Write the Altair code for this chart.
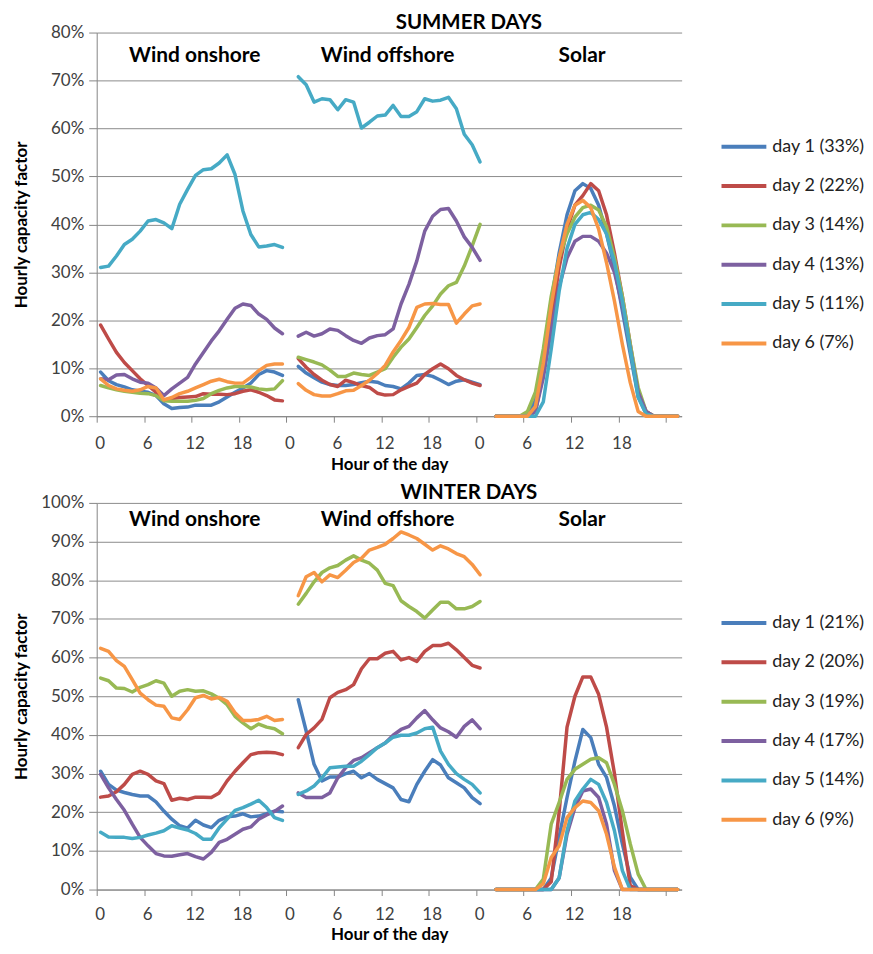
import altair as alt
import pandas as pd

# ---------------- data ----------------
groups = ["Wind onshore", "Wind offshore", "Solar"]
group_start = [0, 25, 50]          # category index where each block begins (one empty slot between blocks)
group_label_x = [12.4, 36.8, 61.4]  # centre of each block heading (category units)

colors = ["#4A7EBB", "#BE4B48", "#98B954", "#7D60A0", "#46AAC5", "#F79646"]

summer_days = ["day 1 (33%)", "day 2 (22%)", "day 3 (14%)", "day 4 (13%)", "day 5 (11%)", "day 6 (7%)"]
winter_days = ["day 1 (21%)", "day 2 (20%)", "day 3 (19%)", "day 4 (17%)", "day 5 (14%)", "day 6 (9%)"]

# hourly capacity factor in %, 24 values per day
summer_onshore = [
    [9.2, 7.4, 6.6, 6.1, 5.5, 5.2, 5.0, 4.3, 2.6, 1.6, 1.8, 1.9, 2.3, 2.3, 2.3, 3.0, 4.0, 5.0, 5.9, 6.9, 8.7, 9.5, 9.2, 8.5],
    [19.0, 16.1, 13.3, 11.2, 9.5, 7.8, 6.4, 5.0, 3.4, 3.7, 3.9, 4.0, 4.1, 4.7, 4.6, 4.6, 4.5, 4.7, 5.2, 5.5, 5.0, 4.3, 3.4, 3.2],
    [6.4, 5.9, 5.5, 5.2, 5.0, 4.8, 4.7, 4.3, 3.2, 3.1, 3.1, 3.1, 3.3, 3.7, 4.7, 5.4, 5.9, 6.2, 6.2, 6.1, 5.7, 5.5, 5.7, 7.4],
    [7.8, 7.6, 8.6, 8.7, 7.8, 7.1, 6.9, 5.9, 4.3, 5.7, 6.9, 8.1, 10.9, 13.3, 15.7, 17.8, 20.2, 22.5, 23.4, 23.1, 21.3, 20.2, 18.4, 17.2],
    [31.0, 31.3, 33.4, 35.8, 36.9, 38.6, 40.7, 41.0, 40.3, 39.1, 44.2, 47.3, 50.2, 51.4, 51.6, 52.8, 54.5, 50.4, 42.8, 37.9, 35.3, 35.5, 35.8, 35.2],
    [7.8, 6.4, 5.7, 5.4, 5.2, 5.5, 6.2, 5.9, 3.4, 3.9, 4.7, 5.2, 5.9, 6.6, 7.3, 7.7, 7.2, 6.9, 6.9, 8.1, 9.5, 10.6, 10.9, 10.9],
]
summer_offshore = [
    [10.4, 9.0, 8.0, 7.1, 6.6, 6.4, 6.4, 6.6, 7.0, 7.3, 7.1, 6.4, 6.2, 5.7, 6.9, 8.5, 8.7, 8.3, 7.5, 6.6, 7.3, 7.6, 7.1, 6.6],
    [12.0, 10.2, 8.7, 7.5, 6.6, 6.2, 7.5, 7.0, 6.4, 6.0, 4.8, 4.4, 4.5, 5.5, 6.2, 6.9, 8.7, 9.9, 10.9, 9.9, 8.5, 7.6, 6.9, 6.4],
    [12.3, 11.8, 11.3, 10.7, 9.6, 8.3, 8.3, 9.0, 8.7, 8.5, 9.2, 9.9, 12.3, 14.4, 16.1, 18.5, 21.0, 23.0, 25.5, 27.2, 27.9, 31.3, 35.5, 40.0],
    [16.7, 17.5, 16.7, 17.2, 18.2, 17.9, 16.8, 15.8, 15.2, 16.3, 16.8, 17.0, 18.2, 23.4, 27.5, 32.4, 38.6, 41.7, 43.1, 43.3, 40.7, 37.4, 35.2, 32.5],
    [70.8, 69.1, 65.5, 66.2, 66.0, 63.9, 66.0, 65.5, 60.1, 61.3, 62.6, 62.8, 64.8, 62.5, 62.5, 63.5, 66.2, 65.7, 65.9, 66.5, 64.1, 58.8, 56.6, 53.0],
    [6.8, 5.4, 4.5, 4.2, 4.2, 4.7, 5.3, 5.4, 6.4, 7.5, 8.9, 10.6, 13.4, 15.8, 18.5, 22.7, 23.4, 23.5, 23.3, 23.3, 19.4, 21.3, 23.0, 23.4],
]
summer_solar = [
    [0, 0, 0, 0, 0, 3.3, 13, 24, 34, 42, 47, 48.5, 47.5, 44, 38, 31, 22, 13, 4, 0.5, 0, 0, 0, 0],
    [0, 0, 0, 0, 0, 1, 9, 20, 31, 39, 44, 46, 48.5, 47, 42, 34, 25, 15, 5, 1, 0, 0, 0, 0],
    [0, 0, 0, 0, 1, 5, 14, 25, 33, 38, 41.5, 43.5, 44, 43, 39.5, 33, 25, 15, 6, 1, 0, 0, 0, 0],
    [0, 0, 0, 0, 0, 1, 8, 18, 27, 33, 36.5, 37.5, 37.5, 36.5, 34, 30, 23, 14, 5, 1, 0, 0, 0, 0],
    [0, 0, 0, 0, 0, 0, 3, 14, 26, 35, 40, 42, 42.5, 41, 38, 32, 24, 14, 4, 0.5, 0, 0, 0, 0],
    [0, 0, 0, 0, 0, 2, 11, 23, 33, 40, 44, 45, 43.5, 39, 32, 24, 15, 7, 1, 0, 0, 0, 0, 0],
]

winter_onshore = [
    [30.6, 27.2, 25.7, 25.1, 24.6, 24.2, 24.2, 22.7, 20.3, 18.2, 16.5, 15.9, 17.9, 16.7, 16.0, 17.9, 18.8, 19.0, 19.6, 18.8, 19.0, 19.6, 20.3, 20.1],
    [23.9, 24.2, 25.3, 27.2, 29.8, 30.6, 29.8, 28.1, 27.4, 23.1, 23.6, 23.3, 23.9, 23.9, 23.8, 25.0, 28.1, 30.6, 32.8, 34.9, 35.4, 35.5, 35.4, 34.9],
    [54.7, 54.0, 52.1, 52.0, 51.1, 52.3, 53.0, 54.0, 53.4, 50.0, 51.3, 51.7, 51.3, 51.4, 50.6, 49.5, 47.8, 44.8, 43.1, 41.6, 42.8, 42.0, 41.6, 40.3],
    [29.8, 26.3, 23.3, 20.5, 16.9, 13.5, 11.3, 9.3, 8.7, 8.6, 9.0, 9.3, 8.5, 7.9, 9.6, 12.2, 13.0, 14.3, 15.6, 16.2, 18.2, 19.3, 20.2, 21.6],
    [14.8, 13.6, 13.5, 13.5, 13.2, 13.5, 14.1, 14.6, 15.2, 16.5, 15.9, 15.4, 14.5, 13.0, 13.0, 16.0, 18.2, 20.5, 21.2, 22.1, 23.1, 21.2, 18.6, 17.9],
    [62.4, 61.6, 59.2, 57.7, 54.3, 50.8, 49.1, 47.7, 47.4, 44.4, 44.0, 46.5, 49.6, 50.2, 49.3, 49.7, 48.7, 45.7, 43.7, 43.7, 44.0, 44.8, 43.7, 44.0],
]
winter_offshore = [
    [49.1, 41.0, 32.4, 28.1, 29.1, 29.1, 30.0, 30.6, 28.9, 30.0, 28.5, 27.4, 26.3, 23.3, 22.7, 27.2, 30.6, 33.6, 32.2, 28.9, 27.6, 26.3, 23.8, 22.2],
    [36.7, 40.1, 41.8, 44.0, 49.6, 51.0, 51.7, 53.0, 57.1, 59.7, 59.7, 61.1, 61.6, 59.4, 60.0, 59.0, 61.6, 63.1, 63.1, 63.7, 62.0, 60.0, 58.0, 57.3],
    [73.8, 76.6, 79.6, 82.0, 83.2, 83.8, 85.2, 86.3, 85.2, 84.4, 82.6, 79.2, 78.6, 74.7, 73.2, 71.9, 70.2, 72.3, 74.3, 74.3, 72.6, 72.6, 73.2, 74.5],
    [25.0, 23.8, 23.8, 23.8, 25.0, 28.9, 31.5, 33.4, 34.1, 35.4, 36.7, 37.9, 39.9, 41.4, 42.2, 44.4, 46.3, 43.9, 41.8, 40.8, 39.4, 42.2, 43.9, 41.6],
    [24.6, 25.5, 26.8, 28.9, 31.5, 31.7, 31.9, 31.9, 33.2, 34.9, 36.7, 37.9, 39.4, 39.9, 39.9, 40.5, 41.6, 42.0, 35.8, 32.4, 30.0, 28.5, 27.2, 25.0],
    [76.0, 80.9, 82.0, 79.6, 81.4, 80.7, 82.6, 84.6, 85.7, 87.8, 88.5, 89.3, 90.8, 92.5, 91.7, 90.8, 89.3, 87.8, 88.9, 88.1, 86.9, 86.1, 84.1, 81.4],
]
winter_solar = [
    [0, 0, 0, 0, 0, 0, 0, 3, 13.5, 23.8, 33.2, 41.4, 39.3, 32.4, 29, 21.6, 11.8, 3.2, 0, 0, 0, 0, 0, 0],
    [0, 0, 0, 0, 0, 0, 0, 2, 20, 42, 50, 55, 55, 50.5, 42, 30, 15, 1, 0, 0, 0, 0, 0, 0],
    [0, 0, 0, 0, 0, 0, 2.7, 16.9, 22.5, 28.5, 31.1, 32.4, 33.7, 34.1, 32.8, 27.2, 20.4, 11.8, 4, 0, 0, 0, 0, 0],
    [0, 0, 0, 0, 0, 0, 0, 0, 3, 14.3, 21.2, 25.5, 26, 23.8, 16.9, 4.9, 0, 0, 0, 0, 0, 0, 0, 0],
    [0, 0, 0, 0, 0, 0, 0, 0, 3, 15.2, 22.9, 26, 28.5, 27.2, 22.5, 15.2, 4.9, 0, 0, 0, 0, 0, 0, 0],
    [0, 0, 0, 0, 0, 0, 1.5, 8.3, 11.3, 18.6, 21.2, 22.9, 22.5, 20.4, 14.3, 5.8, 0, 0, 0, 0, 0, 0, 0, 0],
]

FONT = "Lato"


def build_df(blocks, days):
    rows = []
    for d, day in enumerate(days):
        for g, block in enumerate(blocks):
            for i, val in enumerate(block[d]):
                rows.append({"day": day, "group": groups[g],
                             "x": group_start[g] + i + 0.5, "v": val / 100.0})
    return pd.DataFrame(rows)


def panel(blocks, days, ymax, title, label_v, height, legend_y, lab_pad, title_pad):
    df = build_df(blocks, days)
    lab = pd.DataFrame({"x": group_label_x, "v": [label_v] * 3, "name": groups})
    nt = int(round(ymax * 10))
    xscale = alt.Scale(domain=[0, 74], nice=False, zero=False)
    yscale = alt.Scale(domain=[0, ymax], nice=False, zero=True)
    xaxis = alt.Axis(values=list(range(0, 73, 6)),
                     labelExpr="datum.value == 72 ? '' : '' + (datum.value % 24)",
                     grid=False, title="Hour of the day", labelFlush=False,
                     labelOffset=3, tickSize=6, labelPadding=lab_pad, titlePadding=title_pad)
    yaxis = alt.Axis(values=[i / 10 for i in range(nt + 1)], format=".0%",
                     labelOverlap=False,
                     title="Hourly capacity factor", titleX=-66,
                     tickSize=8, labelPadding=5)
    xenc = alt.X("x:Q", scale=xscale, axis=xaxis)
    yenc = alt.Y("v:Q", scale=yscale, axis=yaxis)
    lines = alt.Chart(df).mark_line(strokeWidth=3.5, strokeCap="round", strokeJoin="round").encode(
        x=xenc, y=yenc,
        color=alt.Color("day:N", sort=days,
                        scale=alt.Scale(domain=days, range=colors),
                        legend=alt.Legend(title=None, orient="none", legendX=625, legendY=legend_y,
                                          symbolType="stroke", symbolSize=2025, symbolStrokeWidth=4,
                                          labelFontSize=18, labelFont=FONT, labelColor="#222222",
                                          labelOffset=4, rowPadding=5.5)),
        detail="group:N",
    )
    labels = alt.Chart(lab).mark_text(font=FONT, fontSize=21, fontWeight="bold", color="black").encode(
        x=xenc, y=yenc, text="name:N")
    return alt.layer(lines, labels).properties(
        width=587, height=height,
        title=alt.TitleParams(title, font=FONT, fontSize=20.5, fontWeight="bold", color="black",
                              anchor="middle", frame="group", dx=80, offset=-10),
    )


summer = panel([summer_onshore, summer_offshore, summer_solar], summer_days, 0.8,
               "SUMMER DAYS", 0.752, 385, 90, 13, 5)
winter = panel([winter_onshore, winter_offshore, winter_solar], winter_days, 1.0,
               "WINTER DAYS", 0.955, 388, 96, 11, 4)

chart = alt.vconcat(summer, winter, spacing=11).resolve_scale(color="independent").properties(
    padding={"left": 5, "top": 3, "right": 0, "bottom": 0}
).configure_view(stroke=None).configure_axis(
    labelFont=FONT, titleFont=FONT, labelFontSize=17, titleFontSize=17,
    labelColor="#404040", titleColor="black", titleFontWeight="bold",
    domainColor="#868686", tickColor="#868686", gridColor="#8c8c8c", gridWidth=1,
)

chart.save("out.html", embed_options={"renderer": "svg", "actions": False})
